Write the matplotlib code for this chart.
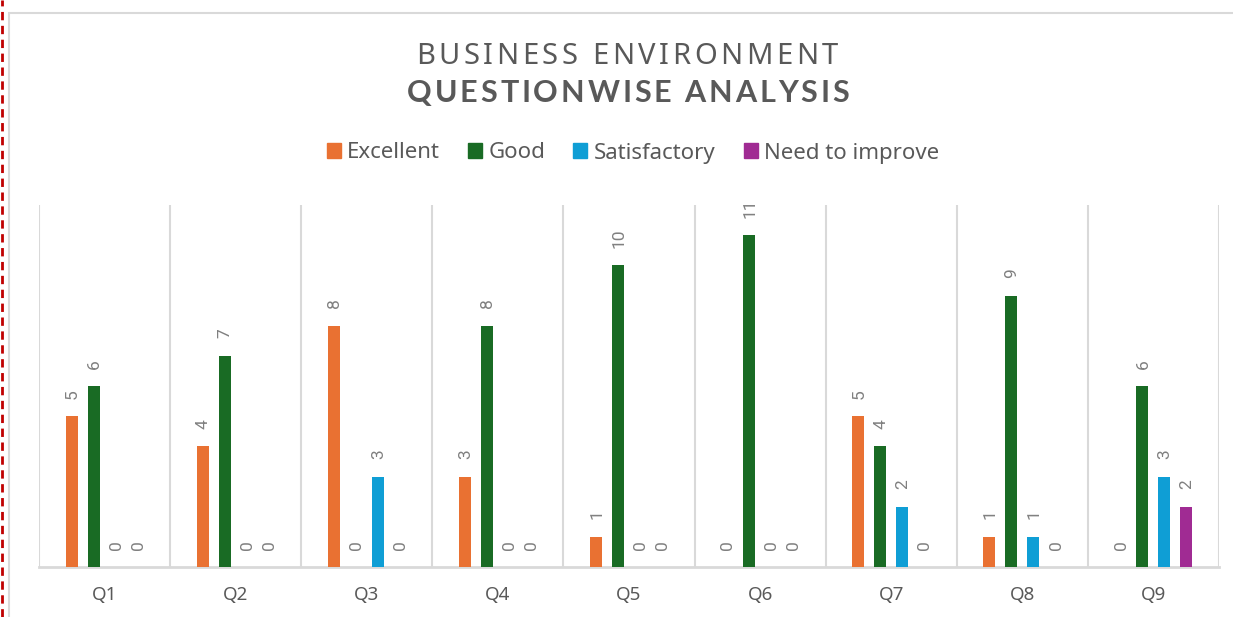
import matplotlib
matplotlib.use("Agg")
import matplotlib.pyplot as plt
import numpy as np
from matplotlib.lines import Line2D
from matplotlib.patches import Rectangle

categories = ["Q1", "Q2", "Q3", "Q4", "Q5", "Q6", "Q7", "Q8", "Q9"]
series_names = ["Excellent", "Good", "Satisfactory", "Need to improve"]
excellent = [5, 4, 8, 3, 1, 0, 5, 1, 0]
good = [6, 7, 0, 8, 10, 11, 4, 9, 6]
satisfactory = [0, 0, 3, 0, 0, 0, 2, 1, 3]
need_to_improve = [0, 0, 0, 0, 0, 0, 0, 0, 2]
colors = ["#E97132", "#196B24", "#0F9ED5", "#A02B93"]
title_line1 = "BUSINESS ENVIRONMENT"
title_line2 = "QUESTIONWISE ANALYSIS"

W, H = 1233, 617
fig = plt.figure(figsize=(W / 100, H / 100), dpi=100)
fig.patch.set_facecolor("white")

TXT = "#595959"
GRID = "#D9D9D9"

# chart frame and red dashed line
fig.add_artist(Rectangle((9 / W, -0.1), 1.2, (H - 13) / H + 0.1, transform=fig.transFigure,
                         facecolor="none", edgecolor=GRID, linewidth=1.5))
fig.add_artist(Line2D([1.5 / W, 1.5 / W], [0, 1], transform=fig.transFigure,
                      color="#C00000", linewidth=2, linestyle=(0, (3, 2))))

ax = fig.add_axes([39 / W, (H - 567) / H, (1219 - 39) / W, (567 - 205) / H])
ax.set_xlim(-0.5, len(categories) - 0.5)
ax.set_ylim(0, 12)

x = np.arange(len(categories))
step = 22 / 131.1
bw = 12 / 131.1
all_series = [excellent, good, satisfactory, need_to_improve]
for i, (vals, name, c) in enumerate(zip(all_series, series_names, colors)):
    pos = x + (i - 1.5) * step
    ax.bar(pos, vals, width=bw, color=c, label=name, zorder=3)
    for p, v in zip(pos, vals):
        ax.annotate(str(v), (p, v), xytext=(0.5, 12.5), textcoords="offset points",
                    rotation=90, ha="center", va="bottom", fontsize=12.5,
                    color="#808080", family="Roboto")

for b in np.arange(-0.5, len(categories) + 0.5, 1):
    ax.axvline(b, color=GRID, linewidth=1.5, zorder=1)

for s in ["top", "right", "left"]:
    ax.spines[s].set_visible(False)
ax.spines["bottom"].set_color(GRID)
ax.spines["bottom"].set_linewidth(2)
ax.set_yticks([])
ax.set_xticks(x)
ax.set_xticklabels(categories, fontsize=13.5, color=TXT, family="Noto Sans")
ax.tick_params(axis="x", length=0, pad=14)

renderer = fig.canvas.get_renderer()


def advance(ch, **kw):
    t1 = fig.text(0, 0, "H" + ch + "H", **kw)
    t2 = fig.text(0, 0, "HH", **kw)
    w = t1.get_window_extent(renderer).width - t2.get_window_extent(renderer).width
    t1.remove()
    t2.remove()
    return w


def spaced_text(s, x0_px, x1_px, baseline_px, **kw):
    widths = [advance(ch, **kw) for ch in s]
    t = fig.text(0, 0, s[-1], **kw)
    last = t.get_window_extent(renderer).width
    t.remove()
    natural = sum(widths[:-1]) + last
    sp = (x1_px - x0_px - natural) / (len(s) - 1)
    xp = x0_px
    for ch, w in zip(s, widths):
        fig.text(xp / W, 1 - baseline_px / H, ch, ha="left", va="baseline", **kw)
        xp += w + sp


spaced_text(title_line1, 416, 838, 64, fontsize=21, color=TXT, family="Noto Sans")
spaced_text(title_line2, 407, 849, 102, fontsize=22, color=TXT, family="Lato",
            weight="bold")

handles = [Rectangle((0, 0), 1, 1, color=c) for c in colors]
fig.legend(handles, series_names, loc="center", bbox_to_anchor=(633 / W, 1 - 153 / H),
           ncol=4, frameon=False, handlelength=0.63, handleheight=0.63,
           handletextpad=0.3, columnspacing=1.25, labelcolor=TXT,
           prop={"family": "Noto Sans", "size": 16})

fig.savefig("out.png", dpi=100)
